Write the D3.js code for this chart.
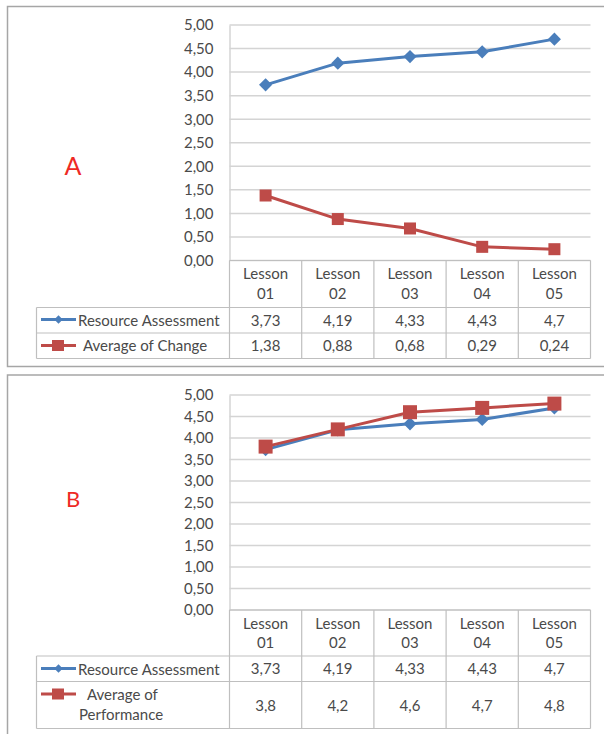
<!DOCTYPE html>
<html>
<head>
<meta charset="utf-8">
<script src="https://cdn.jsdelivr.net/npm/d3@7"></script>
<style>
  body{margin:0;background:#fff;}
  svg text{font-family:Lato, "Open Sans", sans-serif;fill:#4a4a4a;}
</style>
</head>
<body>
<svg id="chart"></svg>
<script>
// values
var lessons = ["Lesson 01","Lesson 02","Lesson 03","Lesson 04","Lesson 05"];
var resourceAssessment = [3.73, 4.19, 4.33, 4.43, 4.7];
var averageOfChange = [1.38, 0.88, 0.68, 0.29, 0.24];
var averageOfPerformance = [3.8, 4.2, 4.6, 4.7, 4.8];
var yTicks = [0, 0.5, 1, 1.5, 2, 2.5, 3, 3.5, 4, 4.5, 5];
var panelLabels = ["A", "B"];
var seriesNamesA = ["Resource Assessment", "Average of Change"];
var seriesNamesB = ["Resource Assessment", "Average of|Performance"];

var blue = "#4a7ebb", red = "#be4b48", grid = "#d4d4d4", border = "#bfbfbf";
var fs = "15px";

var svg = d3.select("#chart").attr("width",604).attr("height",734);

function comma(v){ return String(v).replace(".", ","); }

function drawPanel(p){
  var g = svg.append("g");

  // outer frame
  g.append("rect")
   .attr("x",7.5).attr("y",p.frameTop)
   .attr("width",610).attr("height",p.frameH)
   .attr("fill","none").attr("stroke","#a6a6a6").attr("stroke-width",1.5);

  var xScale = d3.scaleBand().domain(lessons).range([229.5,590.5]).padding(0);
  var yScale = d3.scaleLinear().domain([0,5]).range([p.y0, p.y5]);
  var cx = function(d){ return xScale(d) + xScale.bandwidth()/2; };

  // gridlines
  g.selectAll("line.grid")
   .data(yTicks)
   .enter()
   .append("line")
   .attr("x1",229.5).attr("x2",590.5)
   .attr("y1",function(d){return yScale(d);})
   .attr("y2",function(d){return yScale(d);})
   .attr("stroke",grid).attr("stroke-width",1.5);

  // y axis
  var yAxis = d3.axisLeft(yScale)
                .tickValues(yTicks)
                .tickSize(0)
                .tickPadding(16)
                .tickFormat(function(d){ return d3.format(".2f")(d).replace(".", ","); });
  var ax = g.append("g")
            .attr("transform","translate(229.5,0)")
            .call(yAxis);
  ax.select(".domain").attr("stroke",grid).attr("stroke-width",1.5);
  ax.selectAll("text").style("font-size",fs).attr("fill","#4a4a4a");

  // data table
  var tTop = p.y0, hdrBot = p.hdrBot, r1 = p.r1, r2 = p.r2;
  var tl = g.append("g").attr("stroke",border).attr("stroke-width",1.2).attr("fill","none");
  tl.append("line").attr("x1",229.5).attr("x2",590.5).attr("y1",tTop).attr("y2",tTop);
  tl.append("line").attr("x1",36.5).attr("x2",590.5).attr("y1",hdrBot).attr("y2",hdrBot);
  tl.append("line").attr("x1",36.5).attr("x2",590.5).attr("y1",r1).attr("y2",r1);
  tl.append("line").attr("x1",36.5).attr("x2",590.5).attr("y1",r2).attr("y2",r2);
  tl.append("line").attr("x1",36.5).attr("x2",36.5).attr("y1",hdrBot).attr("y2",r2);
  tl.selectAll("line.col")
    .data(lessons.concat(["end"]))
    .enter()
    .append("line")
    .attr("x1",function(d){ return d==="end" ? 590.5 : xScale(d); })
    .attr("x2",function(d){ return d==="end" ? 590.5 : xScale(d); })
    .attr("y1",tTop).attr("y2",r2);

  // header text
  var hdr = g.selectAll("text.hdr")
             .data(lessons)
             .enter()
             .append("text")
             .attr("text-anchor","middle")
             .style("font-size",fs);
  hdr.append("tspan").attr("x",cx).attr("y",p.hdrY1).text(function(d){return d.split(" ")[0];});
  hdr.append("tspan").attr("x",cx).attr("y",p.hdrY2).text(function(d){return d.split(" ")[1];});

  // rows
  p.series.forEach(function(s, si){
    var rowMid = si===0 ? (hdrBot+r1)/2 : (r1+r2)/2;
    g.selectAll("text.v"+si)
     .data(s.values)
     .enter()
     .append("text")
     .attr("x",function(d,i){ return cx(lessons[i]); })
     .attr("y",rowMid+5.5)
     .attr("text-anchor","middle")
     .style("font-size",fs)
     .text(comma);

    // legend key
    var key = g.append("g");
    key.append("line").attr("x1",41).attr("x2",76)
       .attr("y1",s.keyY).attr("y2",s.keyY)
       .attr("stroke",s.color).attr("stroke-width",3);
    if(s.shape==="diamond"){
      key.append("path").attr("d",d3.symbol(d3.symbolDiamond2,45)())
         .attr("transform","translate(58.5,"+s.keyY+")").attr("fill",s.color);
    } else {
      key.append("rect").attr("x",52).attr("y",s.keyY-5.5).attr("width",12).attr("height",11)
         .attr("fill",s.color);
    }
    var lines = s.name.split("|");
    var lbl = key.append("text").style("font-size",fs);
    lines.forEach(function(t, li){
      lbl.append("tspan")
         .attr("x", li===0 ? s.textX : 79)
         .attr("y", s.textY + li*20)
         .text(t);
    });
  });

  // series lines & markers
  var line = d3.line()
               .x(function(d,i){ return cx(lessons[i]); })
               .y(function(d){ return yScale(d); });
  p.series.forEach(function(s){
    g.append("path")
     .datum(s.values)
     .attr("d",line)
     .attr("fill","none")
     .attr("stroke",s.color)
     .attr("stroke-width",3)
     .attr("stroke-linejoin","round");
    if(s.shape==="diamond"){
      g.selectAll(null)
       .data(s.values)
       .enter()
       .append("path")
       .attr("d",d3.symbol(d3.symbolDiamond2,110)())
       .attr("transform",function(d,i){ return "translate("+cx(lessons[i])+","+yScale(d)+")"; })
       .attr("fill",s.color);
    } else {
      var sz = p.sq;
      g.selectAll(null)
       .data(s.values)
       .enter()
       .append("rect")
       .attr("x",function(d,i){ return cx(lessons[i])-sz/2; })
       .attr("y",function(d){ return yScale(d)-sz/2; })
       .attr("width",sz).attr("height",sz)
       .attr("fill",s.color);
    }
  });

  // panel letter
  g.append("text")
   .attr("x",73).attr("y",p.letterY)
   .attr("text-anchor","middle")
   .style("font-size",p.letterSize+"px")
   .style("fill","#ee2a24")
   .text(p.letter);
}

drawPanel({
  frameTop:6.5, frameH:360, y0:260.5, y5:25, hdrBot:307.5, r1:333, r2:358.5,
  hdrY1:278.5, hdrY2:298.5, letter:panelLabels[0], letterY:175, letterSize:25, sq:12,
  series:[
    {name:seriesNamesA[0], values:resourceAssessment, color:blue, shape:"diamond", keyY:319.5, textX:78, textY:325.5},
    {name:seriesNamesA[1], values:averageOfChange, color:red, shape:"square", keyY:345.5, textX:83, textY:351}
  ]
});

drawPanel({
  frameTop:375, frameH:400, y0:610, y5:395, hdrBot:656, r1:681.5, r2:728.5,
  hdrY1:628.5, hdrY2:648, letter:panelLabels[1], letterY:507, letterSize:22, sq:14,
  series:[
    {name:seriesNamesB[0], values:resourceAssessment, color:blue, shape:"diamond", keyY:668.5, textX:78, textY:674.5},
    {name:seriesNamesB[1], values:averageOfPerformance, color:red, shape:"square", keyY:694, textX:87, textY:700}
  ]
});
</script>
</body>
</html>
